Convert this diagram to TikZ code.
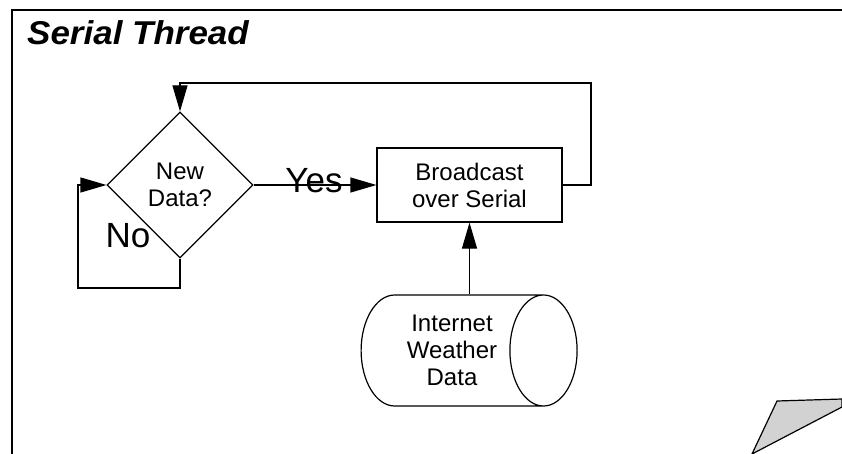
\documentclass[tikz,border=0pt]{standalone}
\usepackage{fontspec}
\setmainfont{Liberation Sans}
\newfontfamily\stitlefont[FakeStretch=1.06]{Liberation Sans}
\usepackage{tikz}
\usetikzlibrary{shapes.geometric,arrows.meta}
\definecolor{STInk}{HTML}{000000}
\definecolor{STShade}{HTML}{D2D2D2}

\tikzset{
  stline/.style={STInk,line width=1.2pt},
  stflow/.style={stline,-{Triangle[length=26pt,width=15pt]}},
  sttext/.style={align=center,font=\fontsize{24}{27}\selectfont},
  stbig/.style={font=\fontsize{35}{38}\selectfont,inner sep=0pt}
}

\begin{document}
\begin{tikzpicture}[x=1pt,y=-1pt]
\path[use as bounding box] (0,0) rectangle (842,454);
\draw[stline] (12,454) -- (12,10) -- (842,10);
\node[anchor=base west,inner sep=0pt] (title) at (27,45) {\stitlefont\fontsize{33}{35}\selectfont\bfseries\itshape Serial Thread};
\node[sttext,draw,stline,diamond,minimum width=146pt,minimum height=146pt,inner sep=0pt] (newdata) at (180,185) {New\\Data?};
\node[sttext,draw,stline,rectangle,minimum width=185pt,minimum height=74pt,inner sep=0pt] (broadcast) at (469.5,185) {Broadcast\\over Serial};
\node[sttext,draw,stline,cylinder,aspect=0.95,minimum width=111pt,minimum height=216pt,inner sep=0pt] (weather) at (452,350.5) {Internet\\Weather\\Data};
\coordinate (noloop) at (78,288);
\coordinate (backloop) at (591,83);
\draw[stflow] (newdata.east) -- (broadcast.west);
\node[stbig] (yeslabel) at (314,181) {Yes};
\node[stbig] (nolabel) at (128,236) {No};
\draw[stflow] (newdata.south) |- (noloop) |- (newdata.west);
\draw[stflow] (broadcast.east) -| (backloop) -| (newdata.north);
\draw[stflow] (weather.north -| broadcast.south) -- (broadcast.south);
\draw[stline,fill=STShade] (777,401) -- (842,399) -- (842,407) -- (752,454) -- cycle;
\end{tikzpicture}
\end{document}
